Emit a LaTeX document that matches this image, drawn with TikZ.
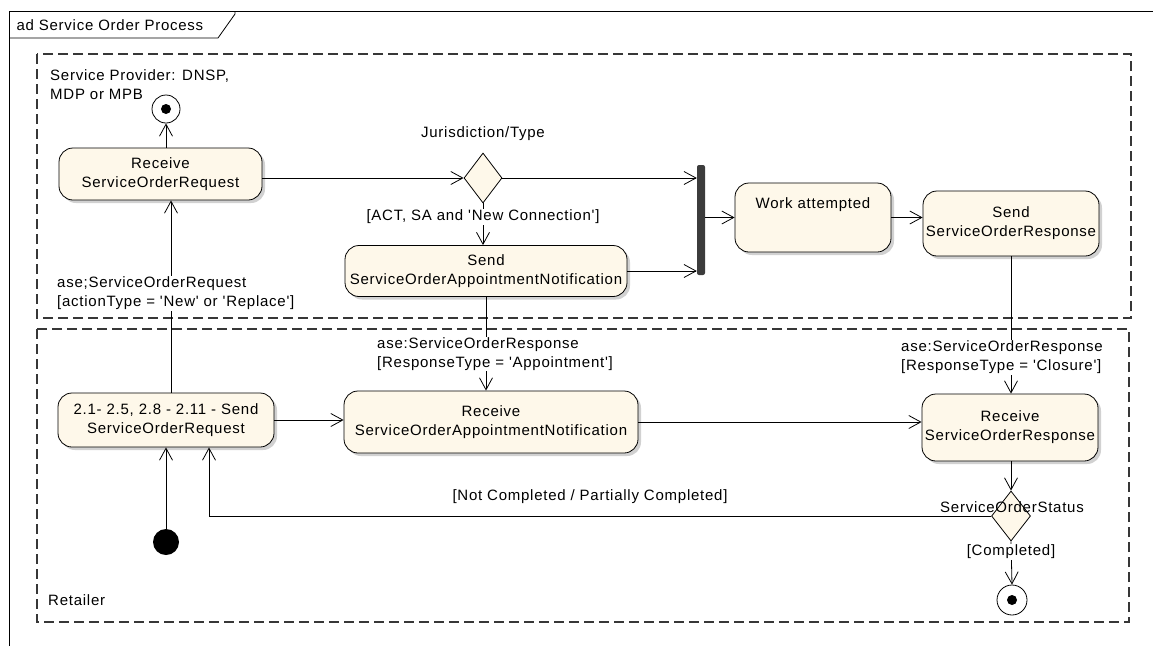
\documentclass[tikz,border=0pt]{standalone}
\usepackage{fontspec}
\newfontfamily\umlfont[LetterSpace=5]{Liberation Sans}
\usetikzlibrary{arrows.meta,shapes.geometric,shadows,calc}

\definecolor{actfill}{RGB}{254,248,234}
\definecolor{barfill}{RGB}{60,60,60}
\definecolor{lanegray}{RGB}{55,55,55}

\tikzstyle{action} = [rectangle, rounded corners=14pt, draw=black, fill=actfill, line width=0.8pt, text centered, align=center, inner sep=2pt, drop shadow={shadow xshift=3pt, shadow yshift=-3pt, fill=black, opacity=0.18}]
\tikzstyle{decision} = [diamond, draw=black, fill=actfill, line width=0.8pt, inner sep=0pt, minimum width=38pt, minimum height=50pt]
\tikzstyle{finalnode} = [circle, draw=black, fill=white, line width=0.8pt, minimum size=28pt, inner sep=0pt]
\tikzstyle{startnode} = [circle, fill=black, minimum size=26pt, inner sep=0pt]
\tikzstyle{forkbar} = [rectangle, fill=barfill, rounded corners=2pt, minimum width=8pt, minimum height=110pt, inner sep=0pt]
\tikzstyle{arrow} = [line width=0.8pt, -{Straight Barb[length=12pt,width=13pt,line width=0.8pt]}]
\tikzstyle{lane} = [draw=lanegray, line width=1.2pt, dash pattern=on 10pt off 5pt]
\tikzstyle{guard} = [align=left, inner sep=1pt, fill=white]

\begin{document}
\begin{tikzpicture}[x=1pt, y=-1pt, every node/.style={font=\umlfont\fontsize{15}{19}\selectfont}]
    \useasboundingbox (0,0) rectangle (1153,646);
    % frame and partitions
    \draw[line width=0.8pt] (9,646) -- (9,11) -- (1153,11);
    \draw[line width=0.8pt] (9,38) -- (218,38) -- (235,14) -- (235,11);
    \node (title) [anchor=west] at (13,25) {ad Service Order Process};
    \draw[lane] (37,54) rectangle (1131,318);
    \draw[lane] (37,329) rectangle (1129,622);
    \node (provider) [guard, anchor=north west, fill=none] at (49,68) {Service Provider: DNSP,\\MDP or MPB};
    \node (retailer) [anchor=west, inner sep=0pt] at (48,600) {Retailer};

    % service provider
    \node (topend) [finalnode] at (166,109) {};
    \node (rcvreq) [action, minimum width=203pt, minimum height=52pt] at (160.5,174) {Receive\\ServiceOrderRequest};
    \node (juris) [decision] at (483,178) {};
    \node (jurislabel) at (483,134) {Jurisdiction/Type};
    \node (sendappt) [action, minimum width=282pt, minimum height=51pt] at (486,271) {Send\\ServiceOrderAppointmentNotification};
    \node (fork) [forkbar] at (701,220) {};
    \node (work) [action, minimum width=156pt, minimum height=69pt, text depth=28pt] at (813,217.5) {Work attempted};
    \node (sendresp) [action, minimum width=176pt, minimum height=65pt] at (1011,223.5) {Send\\ServiceOrderResponse};

    % retailer
    \node (sendreq) [action, minimum width=216pt, minimum height=54pt] at (166,420) {2.1- 2.5, 2.8 - 2.11 - Send\\ServiceOrderRequest};
    \node (rcvappt) [action, minimum width=294pt, minimum height=62pt] at (491,422) {Receive\\ServiceOrderAppointmentNotification};
    \node (rcvresp) [action, minimum width=176pt, minimum height=67pt] at (1010,427.5) {Receive\\ServiceOrderResponse};
    \node (start) [startnode] at (166,542) {};
    \node (status) [decision, minimum width=39pt] at (1011,516) {};
    \node (botend) [finalnode, minimum size=30pt] at (1012,600) {};
    \fill (topend) circle (5pt);
    \fill (botend) circle (5pt);

    \draw [arrow] (rcvreq.north -| topend) -- (topend.south);
    \draw [arrow] ([xshift=5pt]sendreq.north) -- ([xshift=5pt]sendreq.north |- rcvreq.south);
    \draw [arrow] (rcvreq.east |- juris) -- (juris.west);
    \draw [arrow] (juris.east) -- (fork.west |- juris);
    \draw [arrow] (juris.south) -- (juris.south |- sendappt.north);
    \draw [arrow] (sendappt.east) -- (fork.west |- sendappt.east);
    \draw [arrow] (fork.east |- work.west) -- (work.west);
    \draw [arrow] (work.east) -- (work.east -| sendresp.west);
    \draw [arrow] (sendresp.south) -- (sendresp.south |- rcvresp.north);
    \draw [arrow] (sendappt.south) -- (sendappt.south |- rcvappt.north);
    \draw [arrow] (sendreq.east) -- (sendreq.east -| rcvappt.west);
    \draw [arrow] (rcvappt.east) -- (rcvappt.east -| rcvresp.west);
    \draw [arrow] (start.north) -- (sendreq.south);
    \draw [arrow] (rcvresp.south -| status) -- (status.north);
    \draw [arrow] (status.south) -- (botend.north);
    \draw [arrow] (status.west) -| ([xshift=43pt]sendreq.south);

    % guards
    \node (reqguard) [guard, anchor=west] at (56,293.5) {ase;ServiceOrderRequest\\{[actionType = 'New' or 'Replace']}};
    \node (connguard) [guard] at (483,217) {[ACT, SA and 'New Connection']};
    \node (apptguard) [guard, anchor=west] at (376,354) {ase:ServiceOrderResponse\\{[ResponseType = 'Appointment']}};
    \node (closeguard) [guard, anchor=west] at (900,357.5) {ase:ServiceOrderResponse\\{[ResponseType = 'Closure']}};
    \node (retryguard) at (590,497) {[Not Completed / Partially Completed]};
    \node (statuslabel) at (1012,507) {ServiceOrderStatus};
    \node (doneguard) [guard] at (1011,552) {[Completed]};
\end{tikzpicture}
\end{document}
